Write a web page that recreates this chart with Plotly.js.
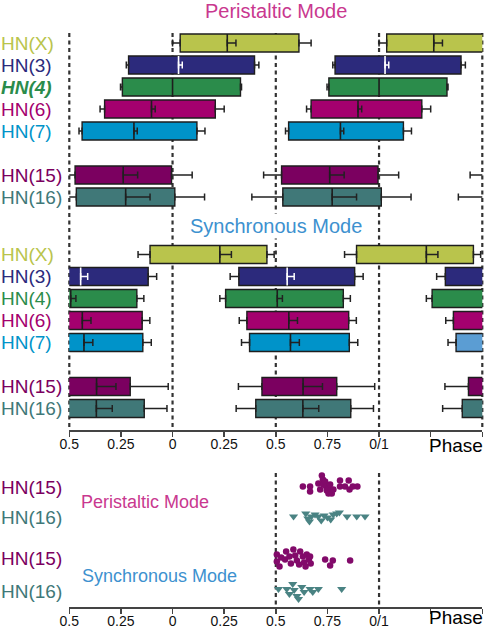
<!DOCTYPE html>
<html><head><meta charset="utf-8">
<script src="https://cdn.plot.ly/plotly-3.0.1.min.js"></script>
<style>html,body{margin:0;padding:0;background:#fff}#chart{width:484px;height:628px}</style>
</head><body><div id="chart"></div>
<script>
// ---------- DATA (phase values) ----------
const rowNames = ['HN(X)','HN(3)','HN(4)','HN(6)','HN(7)','HN(15)','HN(16)'];
const rowColors = ['#b9c44c','#2c2a7c','#2b8c4b','#a4006e','#0093c9','#7b0060','#407878'];

const periStart    = [0.037,-0.213,-0.243,-0.329,-0.438,-0.472,-0.466];
const periEnd      = [0.612, 0.397, 0.329, 0.207, 0.118,-0.005, 0.011];
const periMedian   = [0.265, 0.029, 0.000,-0.102,-0.187,-0.239,-0.227];
const periStartSD  = [0.037, 0.011, 0.009, 0.022, 0.015, 0.087, 0.150];
const periEndSD    = [0.059, 0.021, 0.005, 0.043, 0.039, 0.100, 0.144];
const periMedianSD = [0.042, 0.018, 0.000, 0.018, 0.016, 0.070, 0.118];

const syncStart    = [-0.109, 0.321, 0.257, 0.360, 0.373, 0.433, 0.403];
const syncEnd      = [ 0.457, 0.882, 0.827, 0.853, 0.856, 0.795, 0.863];
const syncMedian   = [ 0.229, 0.555, 0.507, 0.563, 0.571, 0.632, 0.631];
const syncStartSD  = [ 0.058, 0.042, 0.028, 0.037, 0.039, 0.114, 0.095];
const syncEndSD    = [ 0.035, 0.041, 0.034, 0.037, 0.041, 0.184, 0.110];
const syncMedianSD = [ 0.056, 0.034, 0.025, 0.042, 0.043, 0.094, 0.077];

// which cycle repetitions are drawn for each mode
const periCycles = [0, 1, 2];
const syncCycles = [-1, 0, 1];

const tickVals  = [-0.5,-0.25,0,0.25,0.5,0.75,1,1.25,1.5];
const tickTexts = ['0.5','0.25','0','0.25','0.5','0.75','0/1','',''];

// individual cycle phases (bottom panel) and their vertical jitter (px)
const periHN15Phase  = [0.631,0.666,0.666,0.706,0.723,0.728,0.715,0.731,0.739,0.744,0.747,0.755,0.755,0.763,0.771,0.779,0.811,0.811,0.835,0.853,0.857,0.873,0.895];
const periHN15Jitter = [0,0,5,-3,-11,-7,3,-2,-5,0,4,2,7,-2,7,3,-6,0,0,-6,3,0,0];
const periHN16Phase  = [0.586,0.645,0.655,0.663,0.672,0.690,0.706,0.720,0.734,0.750,0.766,0.778,0.795,0.808,0.845,0.892,0.932];
const periHN16Jitter = [0,-3,2,5,0,-2,0,4,-1,1,3,-2,-3,-4,0,0,0];
const syncHN15Phase  = [0.505,0.505,0.518,0.526,0.545,0.550,0.566,0.573,0.585,0.594,0.602,0.613,0.618,0.631,0.637,0.644,0.650,0.660,0.666,0.669,0.739,0.763,0.776,0.860];
const syncHN15Jitter = [-4,3,8,-1,1,-7,-2,5,-9,-3,2,6,-7,-2,4,8,-4,1,-2,5,1,7,2,2];
const syncHN16Phase  = [0.513,0.553,0.566,0.582,0.589,0.602,0.610,0.626,0.637,0.666,0.679,0.706,0.819];
const syncHN16Jitter = [0,0,5,-5,1,7,10,-2,3,0,3,0,0];

// ---------- LAYOUT GEOMETRY ----------
const W = 484, H = 628;
const X0 = 69.3, X1 = 482.3;          // pixel of phase -0.5 and 1.5
const TOP0 = 30, TOP1 = 430;          // top panel (pixel rows)
const BOT0 = 460, BOT1 = 607;         // bottom panel
const ROW = 22, BAR_H = 18;
const periBase = 43, syncBase = 254.5;
const slotIndex = [0,1,2,3,4,6,7];
const FONT = 'Liberation Sans, Arial, sans-serif';
const periColor = '#c9388f', syncColor = '#3d91cf';

const px2py = p => 1 - p / H;
const u2px = u => X0 + (u + 0.5) / 2 * (X1 - X0);

const traces = [];

function errTrace(xs, ys, plus, minus, color, ya) {
  return {type:'scatter', mode:'markers', x:xs, y:ys, xaxis:'x', yaxis:ya||'y',
    marker:{size:2, opacity:0}, hoverinfo:'skip', showlegend:false,
    error_x:{type:'data', symmetric:false, array:plus, arrayminus:minus,
      color:color, thickness:1.5, width:3.5}};
}

function modeTraces(start, end, median, sSD, eSD, mSD, base, cycles, isSync) {
  const ys = slotIndex.map(s => base + s * ROW);
  const bar = {type:'bar', orientation:'h', x:[], base:[], y:[], width:BAR_H,
    marker:{color:[], line:{color:'#1e1e1e', width:1.4}}, xaxis:'x', yaxis:'y',
    hoverinfo:'skip', showlegend:false};
  const st = {x:[],y:[],p:[],m:[]}, en = {x:[],y:[],p:[],m:[]};
  const mdB = {x:[],y:[],p:[],m:[]}, mdW = {x:[],y:[],p:[],m:[]};
  const mk = {x:[], y:[], c:[]};
  cycles.forEach(k => {
    rowNames.forEach((n, i) => {
      bar.x.push(end[i] - start[i]); bar.base.push(start[i] + k); bar.y.push(ys[i]);
      bar.marker.color.push((isSync && i === 4 && k === 1) ? '#5b9dd3' : rowColors[i]);
      st.x.push(start[i] + k); st.y.push(ys[i]); st.p.push(0); st.m.push(sSD[i]);
      en.x.push(end[i] + k); en.y.push(ys[i]); en.p.push(eSD[i]); en.m.push(0);
      const md = (i === 1) ? mdW : mdB;
      if (mSD[i] > 0) { md.x.push(median[i] + k); md.y.push(ys[i]); md.p.push(mSD[i]); md.m.push(0); }
      mk.x.push(median[i] + k); mk.y.push(ys[i]); mk.c.push(i === 1 ? '#ffffff' : '#1e1e1e');
    });
  });
  traces.push(bar);
  traces.push(errTrace(st.x, st.y, st.p, st.m, '#222'));
  traces.push(errTrace(en.x, en.y, en.p, en.m, '#222'));
  traces.push(errTrace(mdB.x, mdB.y, mdB.p, mdB.m, '#222'));
  traces.push(errTrace(mdW.x, mdW.y, mdW.p, mdW.m, '#ffffff'));
  traces.push({type:'scatter', mode:'markers', x:mk.x, y:mk.y, xaxis:'x', yaxis:'y',
    hoverinfo:'skip', showlegend:false,
    marker:{symbol:'line-ns', size:BAR_H/1.4, color:mk.c, line:{color:mk.c, width:1.6}}});
}

modeTraces(periStart, periEnd, periMedian, periStartSD, periEndSD, periMedianSD, periBase, periCycles, false);
modeTraces(syncStart, syncEnd, syncMedian, syncStartSD, syncEndSD, syncMedianSD, syncBase, syncCycles, true);

// bottom scatter
const scatRows = [
  {x:periHN15Phase, j:periHN15Jitter, yc:486.5, sym:'circle', size:6.5, color:'#820a6a'},
  {x:periHN16Phase, j:periHN16Jitter, yc:516.5, sym:'triangle-down', size:8, color:'#4a8383'},
  {x:syncHN15Phase, j:syncHN15Jitter, yc:558.5, sym:'circle', size:6.5, color:'#820a6a'},
  {x:syncHN16Phase, j:syncHN16Jitter, yc:589, sym:'triangle-down', size:8, color:'#4a8383'}
];
scatRows.forEach(r => {
  traces.push({type:'scatter', mode:'markers', x:r.x, y:r.j.map(v => r.yc + v),
    xaxis:'x2', yaxis:'y2', hoverinfo:'skip', showlegend:false,
    marker:{symbol:r.sym, size:r.size, color:r.color, line:{width:0}}});
});

// ---------- shapes ----------
const shapes = [];
const dash = (u, y0, y1) => ({type:'line', xref:'paper', yref:'paper', layer:'below',
  x0:u2px(u)/W, x1:u2px(u)/W, y0:px2py(y0), y1:px2py(y1),
  line:{color:'#333', width:2.2, dash:'4px,3.5px'}});
[-0.5, 0, 0.5, 1, 1.5].forEach(u => shapes.push(dash(u, 33, TOP1)));
[0.5, 1].forEach(u => shapes.push(dash(u, 473, BOT1)));

// ---------- annotations ----------
const ann = [];
const label = (text, color, ypx, size) => ({xref:'paper', yref:'paper', x:-1/W, xanchor:'left',
  y:px2py(ypx), yanchor:'middle', text:text, showarrow:false,
  font:{family:FONT, size:size||19, color:color}});
rowNames.forEach((n, i) => {
  const t = (i === 2) ? '<b><i>' + n + '</i></b>' : n;
  ann.push(label(t, rowColors[i], periBase + slotIndex[i] * ROW));
  ann.push(label(n, rowColors[i], syncBase + slotIndex[i] * ROW));
});
ann.push(label('HN(15)', rowColors[5], 487));
ann.push(label('HN(16)', rowColors[6], 517));
ann.push(label('HN(15)', rowColors[5], 558));
ann.push(label('HN(16)', rowColors[6], 591.5));
ann.push({xref:'paper', yref:'paper', x:u2px(0.5)/W, y:px2py(11), xanchor:'center', yanchor:'middle',
  text:'Peristaltic Mode', showarrow:false, font:{family:FONT, size:20, color:periColor}});
ann.push({xref:'paper', yref:'paper', x:u2px(0.5)/W, y:px2py(226.5), xanchor:'center', yanchor:'middle',
  text:'Synchronous Mode', showarrow:false, bgcolor:'#ffffff', font:{family:FONT, size:20, color:syncColor}});
ann.push({xref:'paper', yref:'paper', x:79/W, y:px2py(502), xanchor:'left', yanchor:'middle',
  text:'Peristaltic Mode', showarrow:false, font:{family:FONT, size:18, color:periColor}});
ann.push({xref:'paper', yref:'paper', x:80/W, y:px2py(576), xanchor:'left', yanchor:'middle',
  text:'Synchronous Mode', showarrow:false, font:{family:FONT, size:18, color:syncColor}});
[446, 617].forEach(yp => ann.push({xref:'paper', yref:'paper', x:485/W, y:px2py(yp),
  xanchor:'right', yanchor:'middle', text:'Phase', showarrow:false,
  font:{family:FONT, size:19, color:'#000'}}));

const xAxisBase = {range:[-0.5,1.5], domain:[X0/W, X1/W], tickmode:'array', tickvals:tickVals,
  ticktext:tickTexts, ticks:'outside', ticklen:5, tickwidth:1.5, tickcolor:'#444',
  ticklabelstandoff:-4,
  showline:true, linecolor:'#444', linewidth:1.5, showgrid:false, zeroline:false,
  tickfont:{family:FONT, size:14, color:'#111'}, fixedrange:true};
const yAxisBase = {visible:false, showgrid:false, zeroline:false, fixedrange:true};

const layout = {
  width:W, height:H, margin:{l:0, r:0, t:0, b:0}, paper_bgcolor:'#fff', plot_bgcolor:'rgba(0,0,0,0)',
  showlegend:false, barmode:'overlay', font:{family:FONT},
  xaxis:Object.assign({}, xAxisBase, {anchor:'y'}),
  yaxis:Object.assign({}, yAxisBase, {domain:[px2py(TOP1), px2py(TOP0)], range:[TOP1, TOP0]}),
  xaxis2:Object.assign({}, xAxisBase, {anchor:'y2'}),
  yaxis2:Object.assign({}, yAxisBase, {domain:[px2py(BOT1), px2py(BOT0)], range:[BOT1, BOT0]}),
  shapes:shapes, annotations:ann
};

Plotly.newPlot('chart', traces, layout, {staticPlot:true, displayModeBar:false});
</script></body></html>
